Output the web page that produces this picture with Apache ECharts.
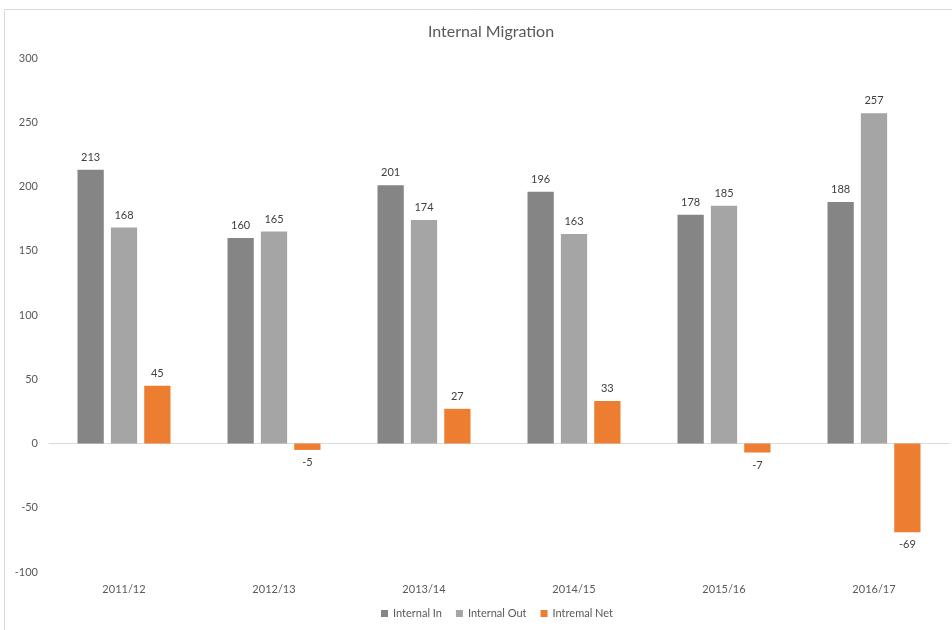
<!DOCTYPE html>
<html>
<head>
<meta charset="utf-8">
<script src="https://cdn.jsdelivr.net/npm/echarts@6/dist/echarts.min.js"></script>
<style>
  html, body { margin: 0; padding: 0; background: #fff; }
  #chart { width: 952px; height: 630px; }
</style>
</head>
<body>
<div id="chart"></div>
<script>
const years = ["2011/12", "2012/13", "2013/14", "2014/15", "2015/16", "2016/17"];
const internalIn = [213, 160, 201, 196, 178, 188];
const internalOut = [168, 165, 174, 163, 185, 257];
const internalNet = [45, -5, 27, 33, -7, -69];

const font = "Lato, 'Open Sans', sans-serif";
const myChart = echarts.init(document.getElementById("chart"));

function barSeries(name, data, color) {
  return {
    name: name,
    type: "bar",
    data: data,
    barGap: "27%",
    barCategoryGap: "38%",
    itemStyle: { color: color },
    label: {
      show: true,
      position: "outside",
      distance: 7,
      color: "#404040",
      fontSize: 11,
      fontFamily: font,
    },
  };
}

myChart.setOption({
  animation: false,
  textStyle: { fontFamily: font },
  title: {
    text: "Internal Migration",
    left: 486,
    textAlign: "center",
    top: 19,
    textStyle: { color: "#595959", fontSize: 16, fontWeight: "normal", fontFamily: font },
  },
  graphic: [
    {
      type: "rect",
      shape: { x: 4.5, y: 9.5, width: 1000, height: 700 },
      style: { fill: "none", stroke: "#d9d9d9", lineWidth: 1 },
      silent: true,
    },
  ],
  legend: {
    bottom: 6,
    left: 376,
    itemWidth: 7,
    itemHeight: 7,
    itemGap: 14,
    icon: "rect",
    textStyle: { color: "#595959", fontSize: 11, fontFamily: font },
    data: ["Internal In", "Internal Out", "Intremal Net"],
  },
  grid: { left: 49, right: 3, top: 58, bottom: 58 },
  xAxis: [
    {
      type: "category",
      data: years,
      position: "bottom",
      axisLine: { show: false, onZero: false },
      axisTick: { show: false },
      axisLabel: { color: "#595959", fontSize: 11, margin: 12, fontFamily: font },
    },
    {
      type: "category",
      data: years,
      axisLine: { show: true, onZero: true, lineStyle: { color: "#d9d9d9", width: 1 } },
      axisTick: { show: false },
      axisLabel: { show: false },
    },
  ],
  yAxis: {
    type: "value",
    min: -100,
    max: 300,
    interval: 50,
    axisLine: { show: false },
    axisTick: { show: false },
    splitLine: { show: false },
    axisLabel: { color: "#595959", fontSize: 11, margin: 11, fontFamily: font },
  },
  series: [
    barSeries("Internal In", internalIn, "#858585"),
    barSeries("Internal Out", internalOut, "#a5a5a5"),
    barSeries("Intremal Net", internalNet, "#ed7d31"),
  ],
});
</script>
</body>
</html>
